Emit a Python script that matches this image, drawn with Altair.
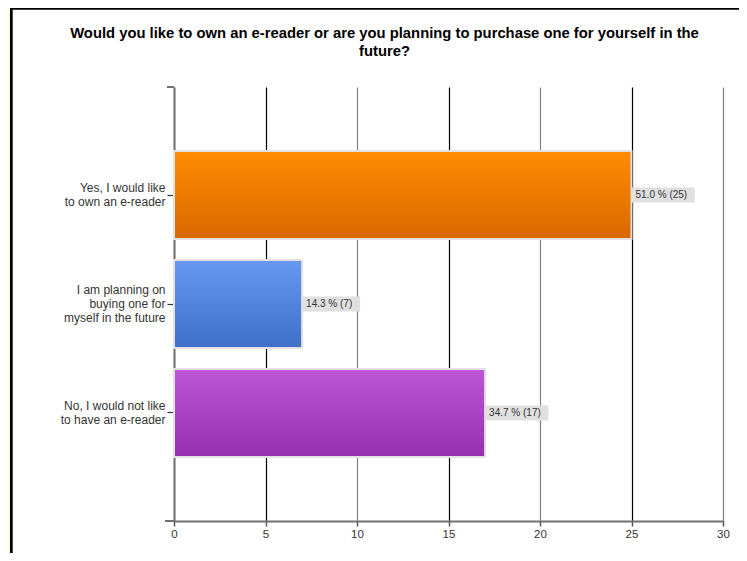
import altair as alt
import pandas as pd

categories = [
    "Yes, I would like\nto own an e-reader",
    "I am planning on\nbuying one for\nmyself in the future",
    "No, I would not like\nto have an e-reader",
]
counts = [25, 7, 17]
percents = [51.0, 14.3, 34.7]
top_colors = ["#FF8C00", "#6797EE", "#BC56D6"]
bottom_colors = ["#D86800", "#3F70C7", "#9630AE"]
x_ticks = [0, 5, 10, 15, 20, 25, 30]
title_lines = [
    "Would you like to own an e-reader or are you planning to purchase one for yourself in the",
    "future?",
]

PLOT_W, PLOT_H = 549, 434
PAD_L, PAD_T = 166, 79
TOTAL_W, TOTAL_H = 731, 545
FONT = "Liberation Sans"
LINE_H = 14

df = pd.DataFrame({
    "category": categories,
    "count": counts,
    "label": [f"{p:.1f} % ({c})" for p, c in zip(percents, counts)],
})

xscale = alt.Scale(domain=[0, 30], nice=False)
yscale = alt.Scale(domain=categories, paddingInner=0.193, paddingOuter=0.588)

xaxis = alt.Axis(
    values=x_ticks, title=None, grid=True,
    gridColor={"condition": {"test": "datum.value % 10 === 0", "value": "#808080"}, "value": "#000000"},
    gridWidth=1.2,
    domainColor="#707070", domainWidth=2,
    tickColor="#555555", tickSize=5, tickWidth=1.5,
    labelFont=FONT, labelFontSize=11.5, labelColor="#333333", labelPadding=2,
    labelFlush=False,
)
yaxis = alt.Axis(
    title=None, grid=False,
    domainColor="#707070", domainWidth=2,
    tickColor="#333333", tickSize=7, tickWidth=1.2,
    labelFont=FONT, labelFontSize=12, labelColor="#333333", labelPadding=2,
    labelLineHeight=LINE_H, labelExpr="split(datum.label, '\\n')",
    labelLimit=200,
    labelOffset={"condition": {"test": "length(split(datum.label, '\\n')) === 3",
                               "value": -LINE_H},
                 "value": -LINE_H / 2},
)

base = alt.Chart(df)

layers = []
# decoration: page frame (yellow strip and black border), axis end ticks
deco = pd.DataFrame({"k": [0]})
layers.append(alt.Chart(deco).mark_rect(color="#FFFFCC").encode(
    x=alt.value(-PAD_L), x2=alt.value(-PAD_L + 2), y=alt.value(-PAD_T), y2=alt.value(480)))
layers.append(alt.Chart(deco).mark_rect(color="#000000").encode(
    x=alt.value(-PAD_L + 2), x2=alt.value(-PAD_L + 4.7), y=alt.value(-PAD_T), y2=alt.value(480)))
layers.append(alt.Chart(deco).mark_rect(color="#000000").encode(
    x=alt.value(-PAD_L + 2), x2=alt.value(580), y=alt.value(-PAD_T), y2=alt.value(-PAD_T + 1.7)))
layers.append(alt.Chart(deco).mark_rule(color="#707070", strokeWidth=2).encode(
    x=alt.value(-9), x2=alt.value(0), y=alt.value(PLOT_H)))
layers.append(alt.Chart(deco).mark_rule(color="#707070", strokeWidth=2).encode(
    x=alt.value(-7), x2=alt.value(0), y=alt.value(0)))

for i, cat in enumerate(categories):
    grad = alt.LinearGradient(
        gradient="linear",
        stops=[alt.GradientStop(color=top_colors[i], offset=0),
               alt.GradientStop(color=bottom_colors[i], offset=1)],
        x1=0, x2=0, y1=0, y2=1,
    )
    layers.append(
        base.transform_filter(alt.datum.category == cat)
        .mark_bar(color=grad, stroke="#E2E2E2", strokeWidth=2)
        .encode(
            x=alt.X("count:Q", scale=xscale, axis=xaxis),
            y=alt.Y("category:N", scale=yscale, axis=yaxis, sort=categories),
        )
    )

label_box = base.transform_calculate(
    xend=f"datum.count + (length(datum.label) * 5.3 + 5) * 30 / {PLOT_W}"
).mark_bar(color="#E0E0E0", size=15).encode(
    x=alt.X("count:Q", scale=xscale),
    x2="xend:Q",
    y=alt.Y("category:N", scale=yscale, sort=categories),
)
label_text = base.mark_text(
    align="left", baseline="middle", dx=4, font=FONT, fontSize=10, color="#333333"
).encode(
    x=alt.X("count:Q", scale=xscale),
    y=alt.Y("category:N", scale=yscale, sort=categories),
    text="label:N",
)
layers += [label_box, label_text]

chart = alt.layer(*layers).properties(
    width=PLOT_W, height=PLOT_H,
    title=alt.TitleParams(
        text=title_lines, font=FONT, fontSize=14.8, fontWeight="bold", color="#000000",
        anchor="middle", frame="group", dx=-64, offset=-66, lineHeight=18,
        baseline="bottom",
    ),
    autosize=alt.AutoSizeParams(type="none"),
    padding={"left": PAD_L, "top": PAD_T, "right": TOTAL_W - PAD_L - PLOT_W,
             "bottom": TOTAL_H - PAD_T - PLOT_H},
    background="#FFFFFF",
).configure_view(stroke=None)

chart.save("out.html", embed_options={"renderer": "svg", "actions": False})
